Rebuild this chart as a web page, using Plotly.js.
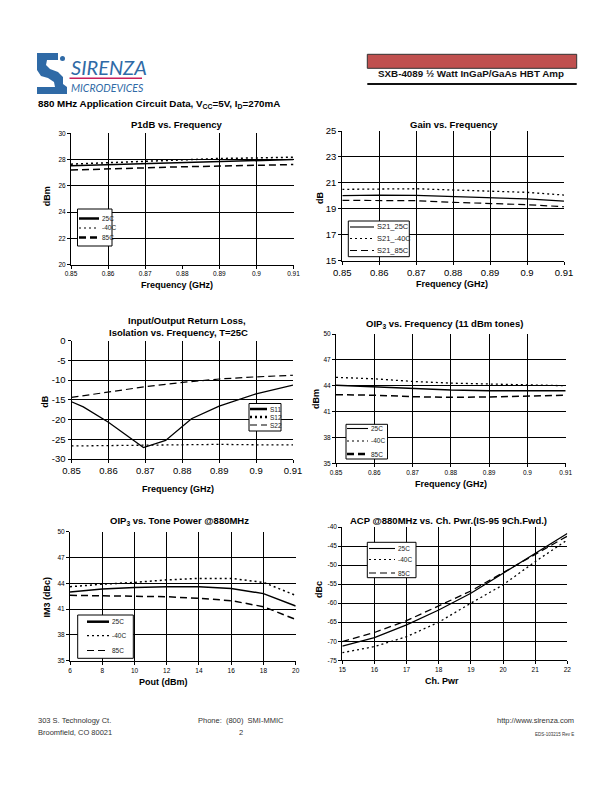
<!DOCTYPE html>
<html><head><meta charset="utf-8">
<script src="https://cdn.plot.ly/plotly-3.0.1.min.js"></script>
<style>html,body{margin:0;padding:0;background:#fff}#chart{width:612px;height:792px}</style>
</head><body><div id="chart"></div>
<script>
// ---------------- DATA ----------------
const freq = [0.85, 0.86, 0.87, 0.88, 0.89, 0.90, 0.91];
const freqTickVals = [0.85, 0.86, 0.87, 0.88, 0.89, 0.90, 0.91];
const freqTickText = ['0.85', '0.86', '0.87', '0.88', '0.89', '0.9', '0.91'];

// P1dB vs Frequency
const p1dbNames = ['25C', '-40C', '85C'];
const p1db25 = [27.52, 27.6, 27.7, 27.8, 27.88, 27.95, 28.0];
const p1dbM40 = [27.65, 27.75, 27.88, 27.95, 28.08, 28.12, 28.18];
const p1db85 = [27.2, 27.3, 27.38, 27.45, 27.5, 27.55, 27.62];
const p1dbYTicks = [20, 22, 24, 26, 28, 30];

// Gain vs Frequency
const gainNames = ['S21_25C', 'S21_-40C', 'S21_85C'];
const gain25 = [20.01, 20.06, 20.04, 19.94, 19.83, 19.76, 19.6];
const gainM40 = [20.5, 20.53, 20.55, 20.45, 20.37, 20.27, 20.06];
const gain85 = [19.65, 19.65, 19.63, 19.5, 19.42, 19.32, 19.16];
const gainYTicks = [15, 17, 19, 21, 23, 25];

// Return loss / isolation
const rlNames = ['S11', 'S12', 'S22'];
const s11Freq = [0.85, 0.8532, 0.86, 0.8695, 0.8755, 0.8825, 0.89, 0.90, 0.91];
const s11 = [-15.5, -16.8, -20.7, -27.1, -25.3, -19.8, -16.6, -13.5, -11.3];
const s12 = [-26.7, -26.6, -26.5, -26.3, -26.3, -26.4, -26.4];
const s22 = [-14.4, -13.1, -11.7, -10.6, -9.75, -9.2, -8.8];
const rlYTicks = [-30, -25, -20, -15, -10, -5, 0];
const rlYText = ['-30', '-25', '-20', '-15', '-10', '-5', '0'];

// OIP3 vs Frequency
const oipNames = ['25C', '-40C', '85C'];
const oipF25 = [44.05, 43.85, 43.66, 43.5, 43.43, 43.43, 43.43];
const oipFM40 = [44.97, 44.8, 44.5, 44.3, 44.2, 44.1, 44.0];
const oipF85 = [42.96, 42.9, 42.73, 42.65, 42.7, 42.8, 42.9];
const oipYTicks = [35, 38, 41, 44, 47, 50];

// OIP3 vs Tone power
const pout = [6, 8, 10, 12, 14, 16, 18, 20];
const poutTicks = [6, 8, 10, 12, 14, 16, 18, 20];
const oipP25 = [43.0, 43.33, 43.5, 43.6, 43.6, 43.4, 42.8, 41.36];
const oipPM40 = [43.6, 43.9, 44.1, 44.4, 44.57, 44.57, 44.1, 42.6];
const oipP85 = [42.6, 42.56, 42.56, 42.44, 42.25, 41.98, 41.28, 39.8];

// ACP vs channel power
const chPwr = [15, 16, 17, 18, 19, 20, 21, 22];
const chPwrTicks = [15, 16, 17, 18, 19, 20, 21, 22];
const acp25 = [-71.3, -69.05, -65.7, -61.8, -57.4, -52.2, -46.9, -41.7];
const acpM40 = [-73.0, -71.4, -68.8, -65.0, -60.0, -55.2, -49.1, -43.4];
const acp85 = [-70.1, -67.7, -64.6, -60.7, -56.8, -52.0, -47.1, -42.4];
const acpYTicks = [-75, -70, -65, -60, -55, -50, -45, -40];
const acpYText = ['-75', '-70', '-65', '-60', '-55', '-50', '-45', '-40'];

// ---------------- LAYOUT HELPERS ----------------
const FONT = 'Liberation Sans, Arial, Helvetica, sans-serif';
const W = 612, H = 792;
const px = x => x / W, py = y => 1 - y / H;
const BLUE = '#2f6aa6';
const DOT = '2px,3px', DASH = '7px,4px';

function mkAxis(domPx, range, tickvals, ticktext, gridvals, fsize, anchor, isY) {
  const dom = isY ? [py(domPx[1]), py(domPx[0])] : [px(domPx[0]), px(domPx[1])];
  return {
    domain: dom, range, anchor, tickmode: 'array', tickvals, ticktext,
    showgrid: false,
    minor: {tickmode: 'array', tickvals: gridvals, showgrid: true, gridcolor: '#000', gridwidth: 1, ticks: ''},
    showline: true, linecolor: '#000', linewidth: 1,
    ticks: 'outside', ticklen: 3, tickwidth: 1, tickcolor: '#000',
    tickfont: {family: FONT, size: fsize, color: '#000'},
    zeroline: false, fixedrange: true
  };
}
function txt(x, y, text, size, opts) {
  const o = opts || {};
  return {
    xref: 'paper', yref: 'paper', x: px(x), y: py(y), text, showarrow: false,
    font: {family: o.family || FONT, size, color: o.color || '#000'},
    xanchor: o.xanchor || 'center', yanchor: o.yanchor || 'middle',
    textangle: o.angle || 0
  };
}
const shapes = [], annotations = [];
function legend(box, lx0, lx1, tx, ys, names, styles, fsize) {
  shapes.push({type: 'rect', xref: 'paper', yref: 'paper', x0: px(box[0]), x1: px(box[2]), y0: py(box[1]), y1: py(box[3]),
    fillcolor: '#fff', line: {color: '#000', width: 1}});
  ys.forEach((y, i) => {
    shapes.push({type: 'line', xref: 'paper', yref: 'paper', x0: px(lx0), x1: px(lx1), y0: py(y), y1: py(y),
      line: {color: '#000', width: styles[i][1], dash: styles[i][0]}});
    annotations.push(txt(tx, y, names[i], fsize, {xanchor: 'left', color: '#222'}));
  });
}

// ---------------- TRACES ----------------
function ln(x, y, name, xa, ya, dash, width) {
  return {x, y, name, xaxis: xa, yaxis: ya, type: 'scatter', mode: 'lines', showlegend: false,
    line: {color: '#000', width, dash}, hoverinfo: 'skip'};
}
const traces = [
  ln(freq, p1db25, p1dbNames[0], 'x', 'y', 'solid', 1.5),
  ln(freq, p1dbM40, p1dbNames[1], 'x', 'y', DOT, 1.5),
  ln(freq, p1db85, p1dbNames[2], 'x', 'y', DASH, 1.5),
  ln(freq, gain25, gainNames[0], 'x2', 'y2', 'solid', 1.2),
  ln(freq, gainM40, gainNames[1], 'x2', 'y2', DOT, 1.3),
  ln(freq, gain85, gainNames[2], 'x2', 'y2', DASH, 1.2),
  ln(s11Freq, s11, rlNames[0], 'x3', 'y3', 'solid', 1.3),
  ln(freq, s12, rlNames[1], 'x3', 'y3', DOT, 1.3),
  ln(freq, s22, rlNames[2], 'x3', 'y3', DASH, 1.2),
  ln(freq, oipF25, oipNames[0], 'x4', 'y4', 'solid', 1.5),
  ln(freq, oipFM40, oipNames[1], 'x4', 'y4', DOT, 1.3),
  ln(freq, oipF85, oipNames[2], 'x4', 'y4', DASH, 1.5),
  ln(pout, oipP25, oipNames[0], 'x5', 'y5', 'solid', 1.5),
  ln(pout, oipPM40, oipNames[1], 'x5', 'y5', DOT, 1.5),
  ln(pout, oipP85, oipNames[2], 'x5', 'y5', DASH, 1.5),
  ln(chPwr, acp25, oipNames[0], 'x6', 'y6', 'solid', 1.3),
  ln(chPwr, acpM40, oipNames[1], 'x6', 'y6', DOT, 1.3),
  ln(chPwr, acp85, oipNames[2], 'x6', 'y6', DASH, 1.3)
];

// ---------------- AXES ----------------
const fGrid = [0.86, 0.87, 0.88, 0.89, 0.90];
const layout = {
  width: W, height: H, margin: {l: 0, r: 0, t: 0, b: 0},
  paper_bgcolor: '#fff', plot_bgcolor: '#fff', showlegend: false,
  xaxis: mkAxis([71, 293.5], [0.85, 0.91], freqTickVals, freqTickText, [0.86, 0.87, 0.89, 0.90], 6.5, 'y'),
  yaxis: mkAxis([133.3, 264.5], [20, 30], p1dbYTicks, p1dbYTicks.map(String), [22, 24, 26, 28], 6.5, 'x', true),
  xaxis2: mkAxis([342.3, 564], [0.85, 0.91], freqTickVals, freqTickText, fGrid, 9.5, 'y2'),
  yaxis2: mkAxis([131, 260.7], [15, 25], gainYTicks, gainYTicks.map(String), [17, 19, 21, 23], 9.5, 'x2', true),
  xaxis3: mkAxis([71.5, 293], [0.85, 0.91], freqTickVals, freqTickText, fGrid, 9.5, 'y3'),
  yaxis3: mkAxis([340.5, 459], [-30, 0], rlYTicks, rlYText, [-25, -20, -15, -10, -5], 9.5, 'x3', true),
  xaxis4: mkAxis([336, 565.7], [0.85, 0.91], freqTickVals, freqTickText, fGrid, 6.5, 'y4'),
  yaxis4: mkAxis([334, 463.3], [35, 50], oipYTicks, oipYTicks.map(String), [38, 41, 44, 47], 6.5, 'x4', true),
  xaxis5: mkAxis([70, 295.7], [6, 20], poutTicks, poutTicks.map(String), [8, 10, 12, 14, 16, 18, 20], 6.5, 'y5'),
  yaxis5: mkAxis([531.7, 660.7], [35, 50], oipYTicks, oipYTicks.map(String), [38, 41, 44, 47], 6.5, 'x5', true),
  xaxis6: mkAxis([342.3, 567.3], [15, 22], chPwrTicks, chPwrTicks.map(String), [16, 17, 18, 19, 20, 21, 22], 6.5, 'y6'),
  yaxis6: mkAxis([527, 660.3], [-75, -40], acpYTicks, acpYText, [-70, -65, -60, -55, -50, -45], 6.5, 'x6', true)
};

// ---------------- TEXT ----------------
const B = s => '<b>' + s + '</b>';
// chart titles
annotations.push(txt(177, 124, B('P1dB vs. Frequency'), 9.5));
annotations.push(txt(453.5, 124, B('Gain vs. Frequency'), 9.5));
annotations.push(txt(187, 320.7, B('Input/Output Return Loss,'), 9.5));
annotations.push(txt(178.5, 332.3, B('Isolation vs. Frequency, T=25C'), 9.5));
annotations.push(txt(444, 323.5, B('OIP<sub>3</sub> vs. Frequency (11 dBm tones)'), 9.5));
annotations.push(txt(179, 521, B('OIP<sub>3</sub> vs. Tone Power @880MHz'), 9.5));
annotations.push(txt(448.3, 520, B('ACP @880MHz vs. Ch. Pwr.(IS-95 9Ch.Fwd.)'), 9.5));
// axis titles
annotations.push(txt(177, 285, B('Frequency (GHz)'), 9));
annotations.push(txt(452, 284.3, B('Frequency (GHz)'), 9));
annotations.push(txt(178, 489, B('Frequency (GHz)'), 9));
annotations.push(txt(451, 483.7, B('Frequency (GHz)'), 9));
annotations.push(txt(163.5, 681.7, B('Pout (dBm)'), 9));
annotations.push(txt(442, 681, B('Ch. Pwr'), 9));
annotations.push(txt(47.3, 196, B('dBm'), 9, {angle: -90}));
annotations.push(txt(320, 198, B('dB'), 9, {angle: -90}));
annotations.push(txt(45, 401.7, B('dB'), 9, {angle: -90}));
annotations.push(txt(316.7, 399.3, B('dBm'), 9, {angle: -90}));
annotations.push(txt(46.7, 596.7, B('IM3 (dBc)'), 9, {angle: -90}));
annotations.push(txt(319, 590, B('dBc'), 9, {angle: -90}));

// legends
legend([77.5, 209, 112, 246], 79, 99, 100, [218.5, 228, 237.5], p1dbNames,
  [['solid', 2.5], [DOT, 1.2], [DASH, 2.5]], 6.5);
legend([348.3, 221, 409.3, 256.7], 350, 374, 375, [227, 238.5, 250.5], gainNames,
  [['solid', 1.1], [DOT, 1.2], [DASH, 1.1]], 7.5);
legend([249, 403.5, 281, 431], 250, 267, 268, [409, 417, 425], rlNames,
  [['solid', 2.5], [DOT, 2.5], [DASH, 1.1]], 6.5);
legend([346, 424.3, 387.5, 459], 347, 368, 369, [428.5, 441, 454], oipNames,
  [['solid', 1.1], [DOT, 1.2], [DASH, 2.5]], 6.5);
legend([77.7, 615, 133.3, 658.3], 87, 109, 110, [621.7, 635.7, 650.5], oipNames,
  [['solid', 2.5], [DOT, 1.2], [DASH, 1.1]], 6.5);
legend([367.3, 542.3, 416, 577.7], 369, 395, 396, [548.5, 559.5, 573], oipNames,
  [['solid', 1.1], [DOT, 1.2], [DASH, 1.1]], 6.5);

// header
shapes.push({type: 'rect', xref: 'paper', yref: 'paper', x0: px(367.3), x1: px(576.7), y0: py(54.3), y1: py(68.3),
  fillcolor: '#c0504f', line: {color: '#333', width: 1}});
shapes.push({type: 'line', xref: 'paper', yref: 'paper', x0: px(367.3), x1: px(576.7), y0: py(84), y1: py(84),
  line: {color: '#111', width: 2}});
annotations.push(txt(471, 73.5, B('SXB-4089 ½ Watt InGaP/GaAs HBT Amp'), 9.8, {color: '#111'}));
annotations.push(txt(36, 104, B('880 MHz Application Circuit Data, V<sub>CC</sub>=5V, I<sub>D</sub>=270mA'), 9.8, {xanchor: 'left'}));

// logo
shapes.push({type: 'path', xref: 'paper', yref: 'paper', fillcolor: BLUE, line: {width: 0},
  path: (() => {
    const pts = [[37,53],[58,53],[58,60],[47,60],[46,65],[50,69],[58,72],[63,77],[63,84],[67,87],[67,94],[37,94],[37,87],[55,87],[54,82],[48,78],[41,76],[37,70]];
    return 'M ' + pts.map(p => px(p[0]) + ',' + py(p[1])).join(' L ') + ' Z';
  })()});
shapes.push({type: 'circle', xref: 'paper', yref: 'paper', x0: px(60), x1: px(65), y0: py(56), y1: py(61),
  fillcolor: BLUE, line: {width: 0}});
annotations.push(txt(69, 67, '<i>SIRENZA</i>', 20, {xanchor: 'left', color: BLUE, family: 'Lato, Liberation Sans, sans-serif'}));
shapes.push({type: 'line', xref: 'paper', yref: 'paper', x0: px(69.5), x1: px(142), y0: py(78.3), y1: py(78.3),
  line: {color: '#c81e5a', width: 1.5}});
annotations.push(txt(69, 88, '<i>MICRODEVICES</i>', 10.5, {xanchor: 'left', color: BLUE, family: 'Lato, Liberation Sans, sans-serif'}));

// footer
annotations.push(txt(36, 720, '303 S. Technology Ct.', 7.5, {xanchor: 'left', color: '#333'}));
annotations.push(txt(36, 732.5, 'Broomfield, CO 80021', 7.5, {xanchor: 'left', color: '#333'}));
annotations.push(txt(241, 720, 'Phone:  (800)  SMI-MMIC', 7.5, {color: '#333'}));
annotations.push(txt(241, 732.5, '2', 7.5, {color: '#333'}));
annotations.push(txt(576, 720, 'http://www.sirenza.com', 7.5, {xanchor: 'right', color: '#333'}));
annotations.push(txt(576, 734, 'EDS-103215 Rev E', 4.5, {xanchor: 'right', color: '#333'}));

layout.shapes = shapes;
layout.annotations = annotations;

Plotly.newPlot('chart', traces, layout, {staticPlot: true, displayModeBar: false});
</script>
</body></html>
